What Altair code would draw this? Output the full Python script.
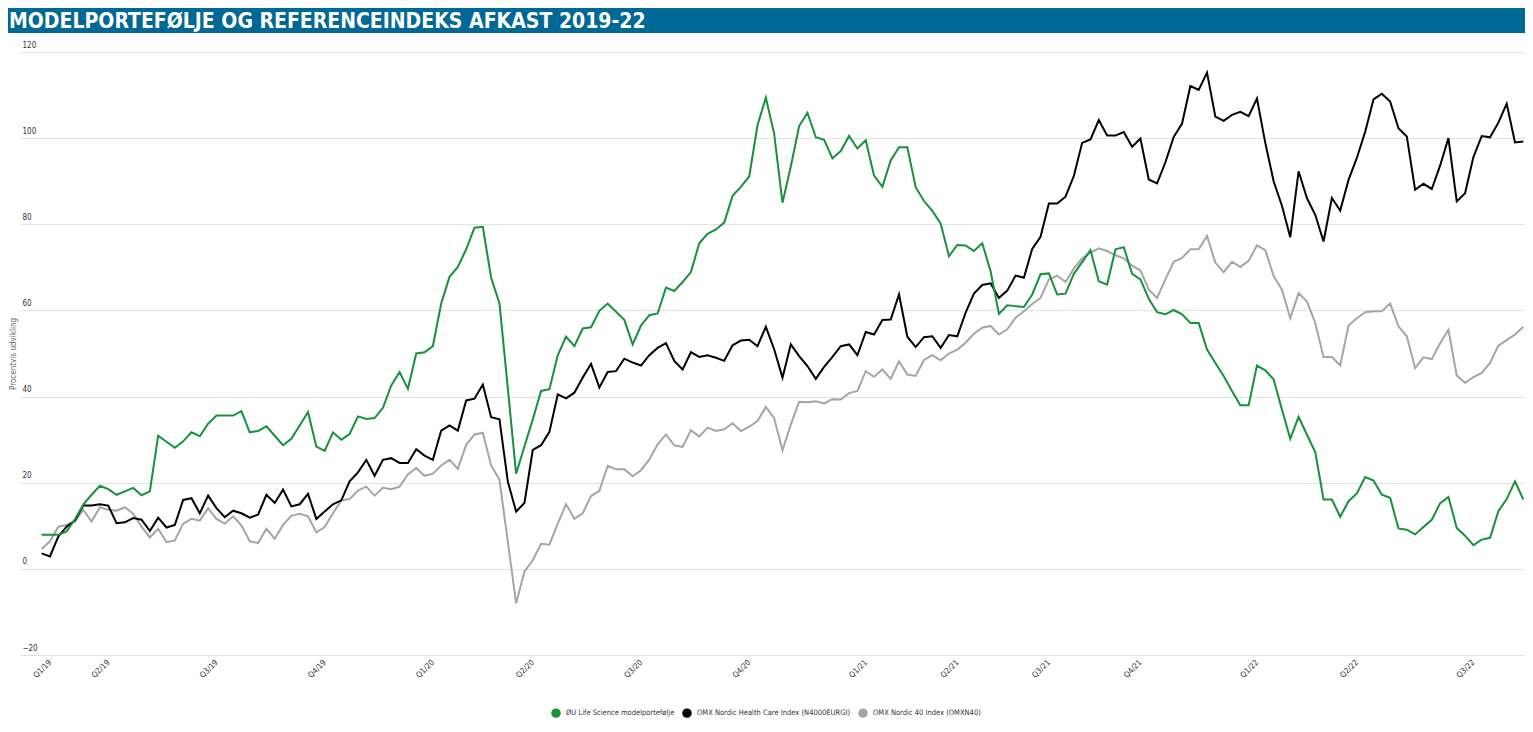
import altair as alt
import pandas as pd

title_text = "MODELPORTEFØLJE OG REFERENCEINDEKS AFKAST 2019-22"
series_names = [
    "ØU Life Science modelportefølje",
    "OMX Nordic Health Care Index (N4000EURGI)",
    "OMX Nordic 40 Index (OMXN40)",
]
series_colors = ["#17913b", "#000000", "#a5a5a5"]

green = [7.9, 7.9, 7.9, 8.7, 11.5, 14.9, 17.2, 19.3, 18.5, 17.2,
         18.0, 18.8, 17.1, 18.0, 30.9, 29.5, 28.1, 29.6, 31.7, 30.8,
         33.7, 35.6, 35.6, 35.6, 36.6, 31.7, 32.0, 33.1, 30.9, 28.7,
         30.2, 33.3, 36.4, 28.4, 27.4, 31.7, 30.0, 31.3, 35.4, 34.8,
         35.0, 37.4, 42.6, 45.7, 41.8, 50.0, 50.3, 51.7, 61.6, 67.8,
         70.1, 74.2, 79.2, 79.4, 67.6, 61.6, 42.0, 22.1, 28.4, 34.7,
         41.3, 41.7, 49.6, 53.9, 51.7, 55.8, 56.1, 59.9, 61.6, 59.7,
         57.8, 52.1, 56.5, 58.9, 59.3, 65.3, 64.5, 66.6, 68.9, 75.6,
         77.8, 78.8, 80.4, 86.6, 88.7, 91.1, 103.0, 109.4, 101.0, 85.0,
         93.4, 102.8, 105.9, 100.2, 99.6, 95.3, 97.0, 100.5, 97.6, 99.5,
         91.3, 88.7, 94.8, 97.9, 97.9, 88.6, 85.4, 83.1, 80.2, 72.6,
         75.2, 75.1, 73.8, 75.6, 69.1, 59.2, 61.2, 61.0, 60.8, 63.7,
         68.4, 68.6, 63.7, 63.9, 68.5, 71.2, 74.0, 66.8, 66.0, 74.2,
         74.7, 68.5, 67.2, 62.7, 59.6, 59.1, 60.1, 59.1, 57.1, 57.1,
         50.9, 47.8, 44.8, 41.3, 38.0, 38.0, 47.2, 46.1, 44.0, 37.0,
         30.2, 35.3, 31.2, 27.1, 16.1, 16.1, 12.1, 15.7, 17.5, 21.3,
         20.5, 17.2, 16.5, 9.4, 9.1, 8.0, 9.7, 11.4, 15.2, 16.7,
         9.5, 7.7, 5.5, 6.8, 7.2, 13.4, 16.2, 20.3, 16.1]

black = [3.6, 2.9, 7.5, 9.8, 11.2, 14.7, 14.7, 15.0, 14.7, 10.6,
         10.8, 11.8, 11.4, 8.8, 11.9, 9.6, 10.2, 16.0, 16.4, 12.9,
         17.0, 14.1, 12.0, 13.5, 12.9, 11.9, 12.6, 17.2, 15.3, 18.4,
         14.5, 15.0, 17.4, 11.6, 13.3, 15.0, 15.9, 20.3, 22.4, 25.3,
         21.6, 25.3, 25.7, 24.6, 24.6, 27.8, 26.3, 25.3, 32.1, 33.3,
         32.1, 39.1, 39.5, 42.8, 35.2, 34.7, 20.3, 13.3, 15.3, 27.6,
         28.7, 31.8, 40.5, 39.6, 40.9, 44.4, 47.6, 42.1, 45.7, 45.9,
         48.8, 47.9, 47.2, 49.6, 51.3, 52.4, 48.3, 46.3, 50.3, 49.2,
         49.6, 49.0, 48.3, 51.9, 53.0, 53.2, 51.7, 56.2, 51.0, 44.4,
         52.1, 49.4, 47.1, 44.1, 46.9, 49.2, 51.7, 52.1, 49.6, 55.0,
         54.4, 57.8, 57.9, 63.7, 53.9, 51.5, 53.8, 54.0, 51.3, 54.3,
         54.0, 59.5, 63.9, 65.9, 66.3, 62.9, 64.6, 68.1, 67.6, 74.3,
         77.1, 84.8, 84.8, 86.4, 91.2, 98.9, 99.7, 104.2, 100.6, 100.6,
         101.4, 98.0, 99.9, 90.4, 89.5, 94.4, 100.3, 103.4, 112.1, 111.2,
         115.2, 105.0, 104.0, 105.4, 106.1, 105.1, 109.2, 98.9, 90.0, 84.3,
         77.0, 92.3, 86.1, 82.2, 76.0, 86.1, 83.2, 90.3, 95.4, 101.5,
         109.0, 110.3, 108.5, 102.3, 100.4, 88.0, 89.4, 88.2, 93.6, 100.0,
         85.3, 87.2, 95.6, 100.5, 100.2, 103.6, 108.0, 99.0, 99.2]

gray = [4.6, 6.4, 9.8, 10.2, 11.0, 13.7, 11.0, 14.3, 13.7, 13.5,
        14.3, 12.8, 9.8, 7.3, 9.3, 6.2, 6.6, 10.5, 11.6, 11.2,
        14.1, 11.6, 10.5, 12.2, 10.1, 6.4, 6.0, 9.3, 7.0, 10.2,
        12.3, 12.8, 12.2, 8.5, 9.7, 12.9, 15.9, 16.2, 18.2, 19.1,
        17.0, 18.8, 18.5, 19.1, 21.9, 23.4, 21.6, 22.1, 24.0, 25.3,
        23.2, 28.8, 31.2, 31.6, 24.0, 20.7, 6.4, -8.0, -0.6, 2.0,
        5.8, 5.6, 10.5, 15.0, 11.6, 12.9, 16.9, 18.1, 23.9, 23.1,
        23.1, 21.5, 22.9, 25.4, 28.9, 31.2, 28.7, 28.3, 32.2, 30.7,
        32.8, 32.0, 32.4, 33.8, 32.0, 33.0, 34.3, 37.6, 35.0, 27.5,
        33.5, 38.8, 38.7, 38.9, 38.4, 39.4, 39.3, 40.8, 41.3, 45.9,
        44.6, 46.3, 44.1, 48.2, 45.1, 44.8, 48.5, 49.6, 48.4, 50.0,
        50.9, 52.5, 54.6, 56.0, 56.4, 54.4, 55.6, 58.3, 59.8, 61.5,
        62.9, 67.2, 68.1, 66.6, 69.7, 72.1, 73.4, 74.4, 73.8, 72.8,
        72.1, 70.4, 69.3, 64.9, 62.9, 67.2, 71.3, 72.2, 74.2, 74.2,
        77.3, 71.1, 68.9, 71.3, 70.1, 71.5, 75.1, 74.0, 68.0, 64.8,
        58.2, 64.0, 62.1, 57.1, 49.2, 49.2, 47.2, 56.5, 58.2, 59.6,
        59.8, 59.8, 61.6, 56.3, 54.0, 46.6, 49.1, 48.7, 52.4, 55.5,
        44.9, 43.2, 44.5, 45.5, 47.8, 51.8, 53.1, 54.4, 56.2]

tick_idx = [1, 8, 21, 34, 47, 59, 72, 85, 99, 110, 121, 132, 146, 158, 172]
tick_labels = ["Q1/19", "Q2/19", "Q3/19", "Q4/19", "Q1/20", "Q2/20", "Q3/20",
               "Q4/20", "Q1/21", "Q2/21", "Q3/21", "Q4/21", "Q1/22", "Q2/22", "Q3/22"]
y_ticks = [-20, 0, 20, 40, 60, 80, 100, 120]

rows = []
for name, vals in zip(series_names, [green, black, gray]):
    for i, v in enumerate(vals):
        rows.append({"idx": i, "value": v, "series": name})
df = pd.DataFrame(rows)

W, H = 1505, 603
FONT = "DejaVu Sans Condensed, sans-serif"

label_expr = ("[" + ",".join("'" + l + "'" for l in tick_labels) + "][indexof(["
              + ",".join(str(t) for t in tick_idx) + "], datum.value)]")

x_enc = alt.X(
    "idx:Q",
    scale=alt.Scale(domain=[-2.6, 178.2], nice=False, zero=False),
    axis=alt.Axis(values=tick_idx, labelExpr=label_expr, labelAngle=-45,
                  labelAlign="right", labelBaseline="middle", labelFontSize=8,
                  labelColor="#333333", labelPadding=6, ticks=False, domain=False,
                  grid=False, title=None, labelFont=FONT),
)
y_enc = alt.Y(
    "value:Q",
    scale=alt.Scale(domain=[-20, 120], nice=False, zero=False),
    axis=alt.Axis(values=y_ticks, title="Procentvis udvikling", titleX=-7,
                  titleY=H / 2, titleAngle=-90, titleAlign="center",
                  titleBaseline="middle", titleFontSize=8, titleFontWeight="normal",
                  titleColor="#666666", titleFont=FONT, gridColor="#e3e3e3",
                  gridWidth=1, labelAlign="left", labelPadding=-2,
                  labelBaseline="bottom", labelOffset=-3, labelFontSize=8,
                  labelColor="#333333", labelFont=FONT, ticks=False, domain=False),
)
color_enc = alt.Color(
    "series:N",
    scale=alt.Scale(domain=series_names, range=series_colors),
    legend=alt.Legend(
        orient="none", legendX=531, legendY=656, direction="horizontal",
        title=None, symbolType="circle", symbolSize=90, symbolStrokeWidth=0,
        symbolOpacity=1, labelLimit=400,
        labelFontSize=7.5, labelColor="#333333", labelFont=FONT,
        labelOffset=5, columnPadding=7,
    ),
)

base = alt.Chart(df)
layers = []
for name in [series_names[2], series_names[1], series_names[0]]:
    layers.append(
        base.transform_filter(alt.datum.series == name)
        .mark_line(strokeWidth=2)
        .encode(x=x_enc, y=y_enc, color=color_enc)
    )
# zero-size filled circles so that the legend shows filled dots
dots = base.mark_circle(size=0, opacity=1).encode(x=x_enc, y=y_enc, color=color_enc)

tdf = pd.DataFrame({"t": [title_text]})
bar = alt.Chart(tdf).mark_rect(color="#006894").encode(
    x=alt.value(-12), x2=alt.value(W), y=alt.value(-44), y2=alt.value(-19)
)
title = alt.Chart(tdf).mark_text(
    align="left", baseline="alphabetic", font=FONT, fontSize=21,
    fontWeight="bold", color="white"
).encode(x=alt.value(-11), y=alt.value(-24), text="t:N")

chart = alt.layer(bar, title, *layers, dots).properties(
    width=W, height=H,
    padding={"left": 12, "top": 44, "right": 0, "bottom": 69},
    autosize=alt.AutoSizeParams(type="none"),
    background="white",
).configure_view(stroke=None)

chart.save("out.html", embed_options={"renderer": "svg", "actions": False})
